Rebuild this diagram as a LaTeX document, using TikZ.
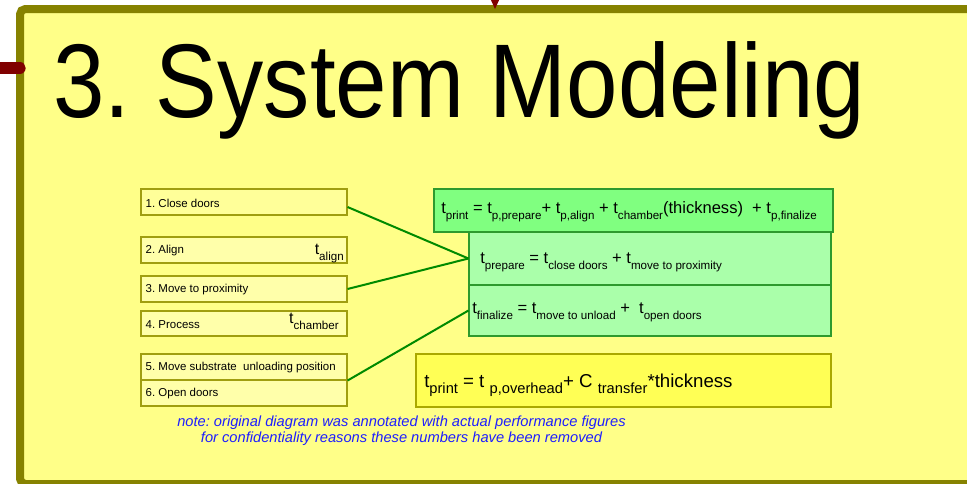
\documentclass[tikz,border=0pt]{standalone}
\usepackage{fontspec}
\usepackage{graphicx}
\setmainfont{Liberation Sans}
\usetikzlibrary{fit,calc}
\definecolor{bgy}{HTML}{FFFF88}
\definecolor{framecol}{HTML}{868200}
\definecolor{marker}{HTML}{800000}
\definecolor{boxline}{HTML}{A09E10}
\definecolor{boxfillA}{HTML}{FFFF99}
\definecolor{boxfillB}{HTML}{FFFFAA}
\definecolor{greenA}{HTML}{80FF80}
\definecolor{greenB}{HTML}{AAFFAA}
\definecolor{greenline}{HTML}{2E9A2E}
\definecolor{yelbox}{HTML}{FFFF55}
\definecolor{yelline}{HTML}{AAA800}
\definecolor{linkgreen}{HTML}{008A00}
\definecolor{notecol}{HTML}{1E1EFF}
\newcommand\sbs[2][8.7]{\raisebox{-5pt}{\fontsize{#1}{#1}\selectfont #2}}
\frenchspacing
\begin{document}
\begin{tikzpicture}[x=0.75pt,y=-0.75pt,
  frame/.style={draw=framecol, line width=6pt, fill=bgy, rounded corners=4pt},
  stepbox/.style={draw=boxline, fill=boxfillB, line width=0.8pt, inner sep=0pt},
  eqbox/.style={draw=greenline, line width=0.8pt, inner sep=0pt},
  lbl/.style={anchor=west, inner sep=0pt, font=\fontsize{8.6}{10}\selectfont},
  eqtext/.style={anchor=base west, inner sep=0pt, font=\fontsize{12.4}{14}\selectfont},
  tlbl/.style={anchor=base east, inner sep=0pt, font=\fontsize{12}{14}\selectfont},
  link/.style={draw=linkgreen, line width=1.5pt},
  note/.style={anchor=base, inner sep=0pt, text=notecol, font=\fontsize{11}{12.5}\selectfont\itshape}]
\useasboundingbox (0,0) rectangle (967,483);
\fill[white] (0,0) rectangle (967,483);
% frame
\draw[frame] (20,9) rectangle (1000,484);
\draw[marker, line width=8.5pt, line cap=round] (-10,68) -- (20,68);
\fill[marker] (490,-2) -- (500,-2) -- (495,9) -- cycle;
% title
\node[anchor=base west, inner sep=0pt] (title) at (53,117)
  {\scalebox{0.882}[1]{\fontsize{78.6}{80}\selectfont 3. System Modeling}};
% step boxes
\node[stepbox, fill=boxfillA, fit={(141,189) (347,215)}] (b1) {};
\node[stepbox, fit={(141,237) (347,263)}] (b2) {};
\node[stepbox, fit={(141,276) (347,302)}] (b3) {};
\node[stepbox, fit={(141,311) (347,336)}] (b4) {};
\node[stepbox, fit={(141,354) (347,380)}] (b5) {};
\node[stepbox, fit={(141,380) (347,406)}] (b6) {};
\node[lbl] (l1) at ($(b1.west)+(5,1)$) {1. Close doors};
\node[lbl] (l2) at ($(b2.west)+(5,1)$) {2. Align};
\node[lbl] (l3) at ($(b3.west)+(5,1)$) {3. Move to proximity};
\node[lbl] (l4) at ($(b4.west)+(5,1)$) {4. Process};
\node[lbl] (l5) at ($(b5.west)+(5,1)$) {5. Move substrate\ \ unloading position};
\node[lbl] (l6) at ($(b6.west)+(5,1)$) {6. Open doors};
\node[tlbl] (talign) at (344,254) {t\sbs{align}};
\node[tlbl] (tchamber) at (339,323) {t\sbs{chamber}};
% equation boxes
\node[eqbox, fill=greenA, fit={(434,189) (833,232)}] (eqprint) {};
\node[eqbox, fill=greenB, fit={(469,232) (831,285)}] (eqprep) {};
\node[eqbox, fill=greenB, fit={(469,285) (831,336)}] (eqfin) {};
\node[eqtext] (tprint) at (441,213)
  {t\sbs{print} = t\sbs{p,prepare}+ t\sbs{p,align} + t\sbs{chamber}(thickness)\ \ + t\sbs{p,finalize}};
\node[eqtext] (tprep) at (480,263)
  {t\sbs{prepare} = t\sbs{close doors} + t\sbs{move to proximity}};
\node[eqtext] (tfin) at (472,313)
  {t\sbs{finalize} = t\sbs{move to unload} +\ \ t\sbs{open doors}};
% summary box
\node[inner sep=0pt, draw=yelline, line width=0.8pt, fill=yelbox, fit={(416,354) (831,407)}] (summary) {};
\node[anchor=base west, inner sep=0pt, font=\fontsize{14}{16}\selectfont] (tsum) at (424,387)
  {t\sbs[11]{print} = t \sbs[11]{p,overhead}+ C \sbs[11]{transfer}*thickness};
% connectors
\draw[link] ([yshift=-3.75pt]b1.east) -- (eqprep.west);
\draw[link] (b3.east) -- (eqprep.west);
\draw[link] (b5.south east) -- (eqfin.west);
% note
\node[note] (note1) at (401.5,426) {note: original diagram was annotated with actual performance figures};
\node[note] (note2) at (401.5,442) {for confidentiality reasons these numbers have been removed};
\end{tikzpicture}
\end{document}
